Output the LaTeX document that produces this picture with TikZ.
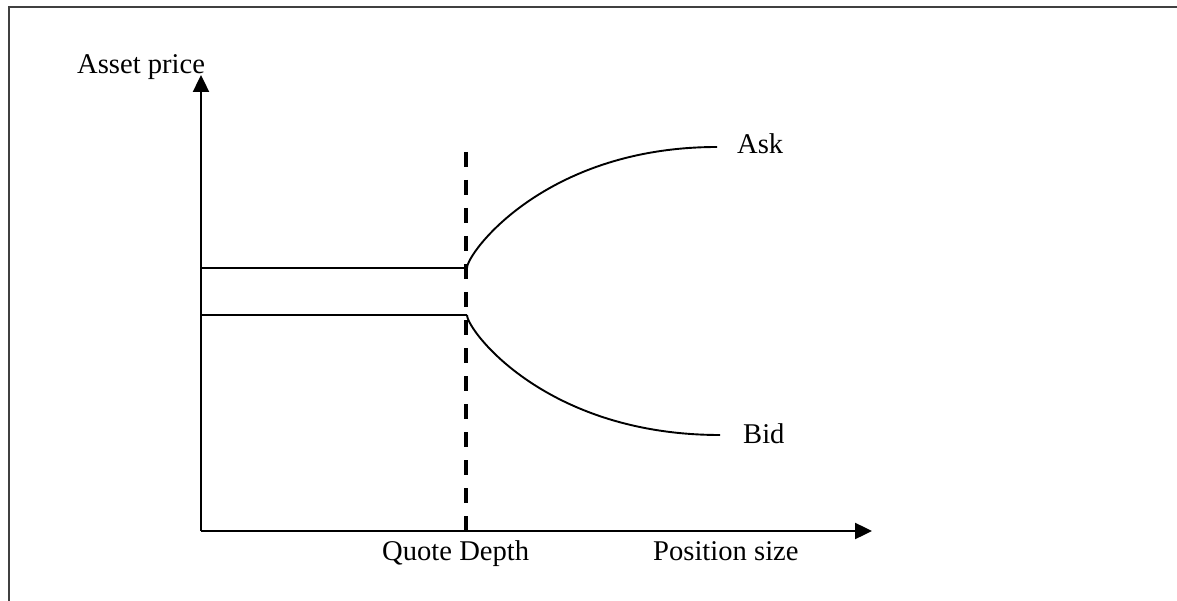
\documentclass[tikz,border=0pt]{standalone}
\usepackage{fontspec}
\setmainfont{Liberation Serif}
\usetikzlibrary{arrows.meta}
\begin{document}
\begin{tikzpicture}[x=1pt,y=-1pt,
  lbl/.style={anchor=base west,inner sep=0pt,font=\fontsize{28.6}{34}\selectfont},
  axis/.style={line width=2.4pt,-{Triangle[width=16pt,length=17pt]}},
  curve/.style={line width=1.9pt},
  frameline/.style={line width=1.5pt,draw=black!75},
  depth/.style={line width=4.5pt,dash pattern=on 15pt off 13pt}]
\useasboundingbox (0,0) rectangle (1177,601);
% frame
\draw[frameline] (9,601) -- (9,7) -- (1177,7);
% coordinates
\coordinate (origin) at (201,531);
\coordinate (ytip) at (201,75);
\coordinate (xtip) at (872,531);
\coordinate (dtop) at (466,152);
\coordinate (dbot) at (466,531);
\coordinate (askL) at (201,268);
\coordinate (bidL) at (201,315);
\coordinate (askS) at (467,268);
\coordinate (bidS) at (467,315);
\coordinate (askE) at (717,147);
\coordinate (bidE) at (720,435);
% axes
\draw[axis] (origin) -- (ytip);
\draw[axis] (origin) -- (xtip);
% dashed quote depth
\draw[depth] (dtop) -- (dbot);
% flat quotes
\draw[curve] (askL) -- (askS);
\draw[curve] (bidL) -- (bidS);
% curves
\draw[curve] (askS) .. controls (467,253) and (545,147) .. (askE);
\draw[curve] (bidS) .. controls (467,330) and (545,435) .. (bidE);
% labels
\node[lbl] (ylab) at (77,74) {Asset price};
\node[lbl] (qd) at (382,560) {Quote Depth};
\node[lbl] (xlab) at (653,560) {Position size};
\node[lbl] (ask) at (737,154) {Ask};
\node[lbl] (bid) at (743,443) {Bid};
\end{tikzpicture}
\end{document}
